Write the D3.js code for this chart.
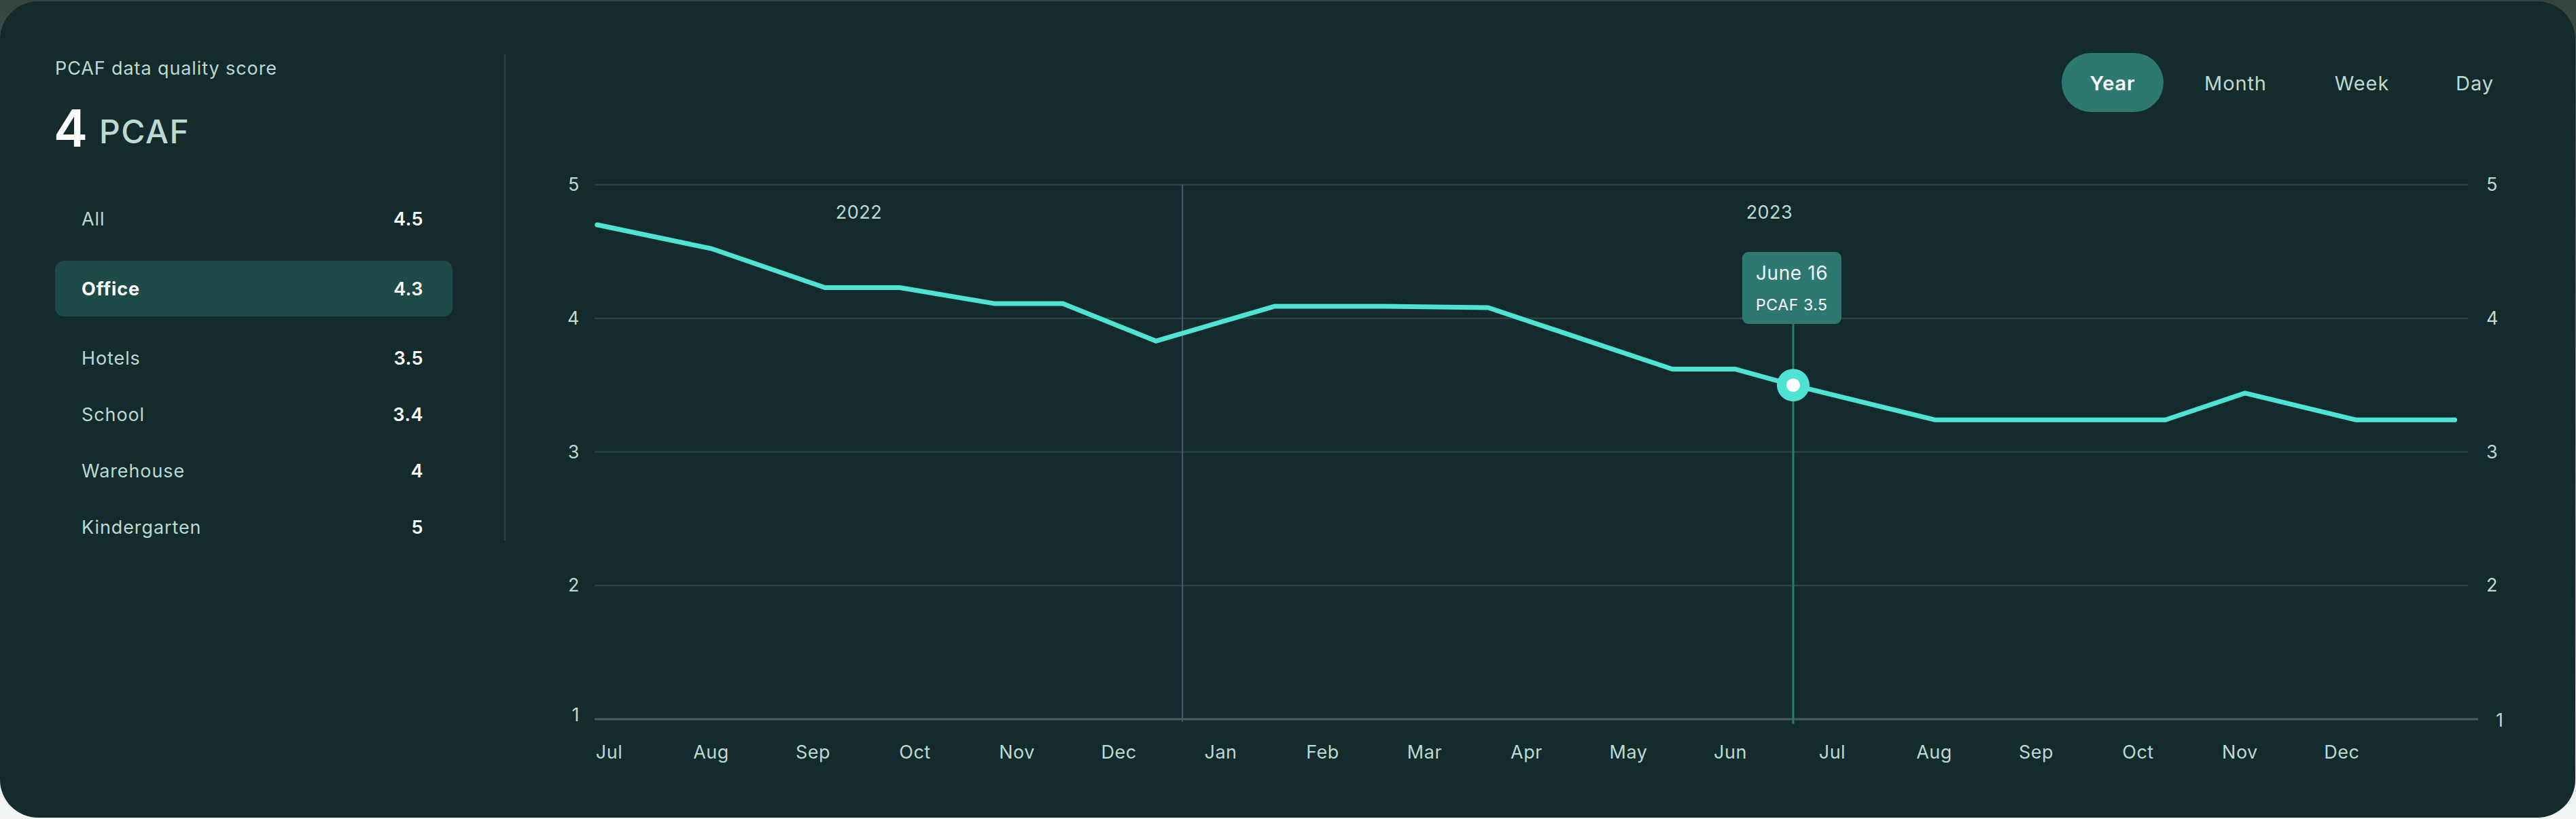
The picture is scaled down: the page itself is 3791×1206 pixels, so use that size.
<!DOCTYPE html>
<html>
<head>
<meta charset="utf-8">
<script src="https://cdn.jsdelivr.net/npm/d3@7"></script>
<style>
  html, body { margin: 0; padding: 0; background: #ffffff; }
  svg { display: block; font-family: Inter, "Open Sans", "Noto Sans", sans-serif; }
</style>
</head>
<body>
<svg id="chart" width="3791" height="1206"></svg>
<script>
// ---------------- data ----------------
const categories = ["All", "Office", "Hotels", "School", "Warehouse", "Kindergarten"];
const categoryScores = ["4.5", "4.3", "3.5", "3.4", "4", "5"];
const selectedCategory = "Office";
const panelTitle = "PCAF data quality score";
const headlineScore = "4";
const headlineUnit = "PCAF";

const periods = ["Year", "Month", "Week", "Day"];
const activePeriod = "Year";

const yTicks = [1, 2, 3, 4, 5];
const monthTicks = ["2022-07-01", "2022-08-01", "2022-09-01", "2022-10-01", "2022-11-01", "2022-12-01",
                    "2023-01-01", "2023-02-01", "2023-03-01", "2023-04-01", "2023-05-01", "2023-06-01",
                    "2023-07-01", "2023-08-01", "2023-09-01", "2023-10-01", "2023-11-01", "2023-12-01"];
const xDomain = ["2022-07-01", "2024-01-13"];
const years = ["2022", "2023"];
const yearLabelDates = ["2022-09-19", "2023-06-17"];
const yearBoundary = "2022-12-25";

const seriesDates = ["2022-07-02", "2022-08-06", "2022-09-09", "2022-10-01", "2022-10-30", "2022-11-19",
                     "2022-12-17", "2023-01-22", "2023-02-22", "2023-03-25", "2023-05-19", "2023-06-07",
                     "2023-06-24", "2023-08-06", "2023-10-14", "2023-11-07", "2023-12-10", "2024-01-09"];
const seriesValues = [4.70, 4.52, 4.23, 4.23, 4.11, 4.11,
                      3.83, 4.09, 4.09, 4.08, 3.62, 3.62,
                      3.50, 3.24, 3.24, 3.44, 3.24, 3.24];

const highlightDate = "2023-06-24";
const highlightValue = 3.5;
const highlightLabel = "June 16";

// ---------------- setup ----------------
const parse = d3.timeParse("%Y-%m-%d");
const W = 3791, H = 1206;
const C = {
  card: "#132b2d", mint: "#bcd9d2", white: "#ffffff", select: "#1e4a47",
  sep: "#2a4345", grid: "#2a4345", base: "#4b5a68", divider: "#4a5a68",
  line: "#4fe3d3", teal: "#2e7872"
};
const svg = d3.select("#chart");

// calendar-month position: each month gets equal width on the axis
const origin = parse(monthTicks[0]);
function monthPos(dt) {
  const m = (dt.getFullYear() - origin.getFullYear()) * 12 + dt.getMonth() - origin.getMonth();
  const dim = new Date(dt.getFullYear(), dt.getMonth() + 1, 0).getDate();
  return m + (dt.getDate() - 1) / dim;
}

// page background + card
const defs = svg.append("defs");
const g0 = defs.append("linearGradient").attr("id", "bg").attr("x1", 0).attr("y1", 0).attr("x2", 0).attr("y2", 1);
g0.append("stop").attr("offset", "0%").attr("stop-color", "#36433f");
g0.append("stop").attr("offset", "100%").attr("stop-color", "#f4f6f6");
svg.append("rect").attr("width", W).attr("height", H).attr("fill", "url(#bg)");
svg.append("rect").attr("x", 0).attr("y", 2).attr("width", W - 1).attr("height", H - 4)
  .attr("rx", 56).attr("fill", C.card);

const LS = 0.9; // letter spacing for body text

// ---------------- left panel ----------------
svg.append("text").attr("x", 81).attr("y", 110).attr("font-size", 27).attr("letter-spacing", LS)
  .attr("fill", C.mint).text(panelTitle);
svg.append("text").attr("x", 79).attr("y", 216).attr("font-size", 75).attr("font-weight", 600)
  .attr("fill", C.white).text(headlineScore);
svg.append("text").attr("x", 146).attr("y", 211).attr("font-size", 48).attr("font-weight", 500)
  .attr("letter-spacing", 1.5).attr("fill", C.mint).text(headlineUnit);

svg.append("line").attr("x1", 743).attr("x2", 743).attr("y1", 80).attr("y2", 796)
  .attr("stroke", C.sep).attr("stroke-width", 2);

const selIdx = categories.indexOf(selectedCategory);
const rowY = i => 332 + i * 83 + (i >= selIdx ? 20 : 0) + (i > selIdx ? 19 : 0);
const rows = svg.append("g").selectAll("g").data(categories).join("g");
rows.filter(d => d === selectedCategory).append("rect")
  .attr("x", 81).attr("y", rowY(selIdx) - 51).attr("width", 585).attr("height", 82)
  .attr("rx", 13).attr("fill", C.select);
rows.append("text").attr("x", 120).attr("y", (d, i) => rowY(i)).attr("font-size", 27)
  .attr("letter-spacing", LS)
  .attr("font-weight", d => d === selectedCategory ? 700 : 400)
  .attr("fill", d => d === selectedCategory ? C.white : C.mint).text(d => d);
rows.append("text").attr("x", 623).attr("y", (d, i) => rowY(i)).attr("font-size", 27)
  .attr("letter-spacing", 0.5)
  .attr("text-anchor", "end").attr("font-weight", 600).attr("fill", C.white)
  .text((d, i) => categoryScores[i]);

// ---------------- period switch ----------------
const periodCenters = [3109, 3290, 3476, 3642];
const pg = svg.append("g");
const ai = periods.indexOf(activePeriod);
pg.append("rect").attr("x", periodCenters[ai] - 75).attr("y", 78).attr("width", 150)
  .attr("height", 87).attr("rx", 43.5).attr("fill", C.teal);
pg.selectAll("text").data(periods).join("text")
  .attr("x", (d, i) => periodCenters[i]).attr("y", 133).attr("text-anchor", "middle")
  .attr("font-size", 29).attr("letter-spacing", LS)
  .attr("font-weight", d => d === activePeriod ? 600 : 400)
  .attr("fill", d => d === activePeriod ? C.white : C.mint).text(d => d);

// ---------------- chart ----------------
const x = d3.scaleLinear().domain([0, monthPos(parse(xDomain[1]))]).range([874, 3632]);
const y = d3.scaleLinear().domain([1, 5]).range([1059, 272]);
const X = s => x(monthPos(parse(s)));

// grid lines
svg.append("g").selectAll("line").data(yTicks).join("line")
  .attr("x1", 875).attr("x2", d => d === 1 ? 3647 : 3632)
  .attr("y1", d => y(d)).attr("y2", d => y(d))
  .attr("stroke", d => d === 1 ? C.base : C.grid)
  .attr("stroke-width", d => d === 1 ? 3 : 2.5);

// year divider
svg.append("line").attr("x1", X(yearBoundary)).attr("x2", X(yearBoundary))
  .attr("y1", 272).attr("y2", 1063).attr("stroke", C.divider).attr("stroke-width", 2);

// axes
function styleAxis(g) {
  g.select(".domain").remove();
  g.selectAll("text").attr("font-size", 27).attr("fill", C.mint).attr("letter-spacing", 0.5)
    .attr("font-family", "Inter, 'Open Sans', sans-serif");
}
svg.append("g").attr("transform", "translate(875,0)")
  .call(d3.axisLeft(y).tickValues(yTicks).tickSize(0).tickPadding(22).tickFormat(d3.format("d")))
  .call(styleAxis)
  .call(g => g.selectAll(".tick").filter(d => d === 1).select("text").attr("y", -6));
svg.append("g").attr("transform", "translate(3632,0)")
  .call(d3.axisRight(y).tickValues(yTicks).tickSize(0).tickPadding(27).tickFormat(d3.format("d")))
  .call(styleAxis)
  .call(g => g.selectAll(".tick").filter(d => d === 1).select("text").attr("x", 41).attr("y", 2));

const monthIdx = monthTicks.map(s => monthPos(parse(s)));
const monthName = d3.timeFormat("%b");
svg.append("g").attr("transform", "translate(0,1059)")
  .call(d3.axisBottom(x).tickValues(monthIdx).tickSize(0)
    .tickFormat((d, i) => monthName(parse(monthTicks[i]))))
  .call(styleAxis)
  .call(g => g.selectAll("text").attr("text-anchor", "middle").attr("x", 22).attr("y", 58).attr("dy", 0));

// year labels
svg.append("g").selectAll("text").data(years).join("text")
  .attr("x", (d, i) => X(yearLabelDates[i])).attr("y", 322).attr("letter-spacing", 0.5)
  .attr("text-anchor", "middle").attr("font-size", 27).attr("fill", C.mint).text(d => d);

// tooltip guide
const hx = X(highlightDate), hy = y(highlightValue);
svg.append("line").attr("x1", hx).attr("x2", hx).attr("y1", 470).attr("y2", 1066)
  .attr("stroke", C.teal).attr("stroke-width", 3);

// line
const series = seriesDates.map((d, i) => ({ date: parse(d), value: seriesValues[i] }));
svg.append("path").datum(series)
  .attr("d", d3.line().x(d => x(monthPos(d.date))).y(d => y(d.value)))
  .attr("fill", "none").attr("stroke", C.line).attr("stroke-width", 7)
  .attr("stroke-linejoin", "round").attr("stroke-linecap", "round");

// highlight dot
svg.append("circle").attr("cx", hx).attr("cy", hy).attr("r", 24).attr("fill", C.line);
svg.append("circle").attr("cx", hx).attr("cy", hy).attr("r", 10).attr("fill", C.white);

// tooltip box
const tb = svg.append("g");
tb.append("rect").attr("x", hx - 75).attr("y", 371).attr("width", 146).attr("height", 106)
  .attr("rx", 9).attr("fill", C.teal);
tb.append("text").attr("x", hx - 55).attr("y", 412).attr("font-size", 28).attr("letter-spacing", 0.6)
  .attr("fill", "#f2fbf9").text(highlightLabel);
tb.append("text").attr("x", hx - 55).attr("y", 457).attr("font-size", 23).attr("letter-spacing", 0.6)
  .attr("fill", C.white).text("PCAF " + highlightValue);
</script>
</body>
</html>
